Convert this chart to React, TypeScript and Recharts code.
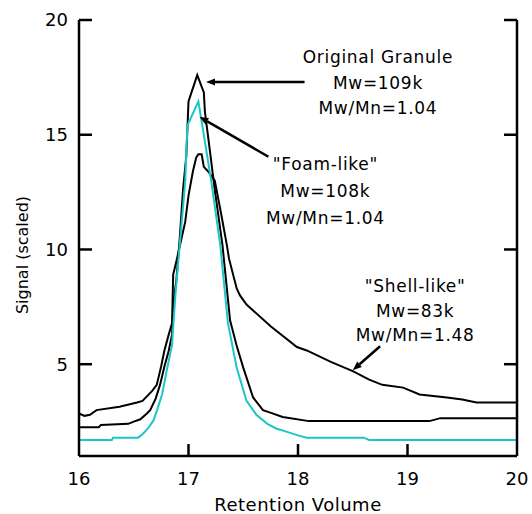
import { LineChart, Line, XAxis, YAxis, ReferenceLine, ReferenceDot } from "recharts";

// Retention volume (x) / scaled signal (y)
const originalX = [16.0, 16.18, 16.2, 16.45, 16.5, 16.56, 16.62, 16.65, 16.7, 16.74, 16.78, 16.82, 16.85, 16.86, 16.89, 16.92, 16.95, 16.98, 17.0, 17.08, 17.14, 17.15, 17.19, 17.24, 17.31, 17.38, 17.44, 17.5, 17.59, 17.68, 17.74, 17.86, 18.1, 19.2, 19.3, 20.0];
const originalY = [2.25, 2.25, 2.35, 2.4, 2.5, 2.6, 2.85, 3.0, 3.5, 4.1, 4.9, 5.6, 6.3, 7.6, 8.7, 10.5, 12.6, 14.07, 16.45, 17.6, 16.84, 16.0, 14.5, 12.6, 10.2, 6.9, 5.8, 4.85, 3.55, 3.0, 2.9, 2.7, 2.52, 2.52, 2.65, 2.65];

const foamX = [16.0, 16.3, 16.31, 16.54, 16.58, 16.63, 16.68, 16.72, 16.76, 16.8, 16.85, 16.86, 16.88, 16.92, 16.97, 16.99, 17.09, 17.15, 17.21, 17.29, 17.36, 17.44, 17.53, 17.62, 17.72, 17.8, 17.9, 18.0, 18.08, 18.6, 18.65, 20.0];
const foamY = [1.7, 1.7, 1.8, 1.8, 1.95, 2.2, 2.55, 3.1, 3.7, 4.7, 5.85, 6.6, 8.0, 10.2, 12.95, 15.4, 16.45, 14.7, 12.9, 10.2, 6.8, 4.85, 3.4, 2.8, 2.4, 2.2, 2.05, 1.9, 1.8, 1.8, 1.7, 1.7];

const shellX = [16.0, 16.05, 16.1, 16.16, 16.37, 16.53, 16.58, 16.62, 16.67, 16.71, 16.75, 16.78, 16.82, 16.85, 16.86, 16.89, 16.97, 17.0, 17.04, 17.07, 17.09, 17.12, 17.14, 17.18, 17.24, 17.3, 17.35, 17.37, 17.44, 17.47, 17.53, 17.6, 17.75, 17.99, 18.08, 18.3, 18.5, 18.65, 18.77, 18.96, 19.11, 19.36, 19.5, 19.63, 20.0];
const shellY = [2.85, 2.75, 2.8, 3.0, 3.15, 3.33, 3.4, 3.6, 3.85, 4.1, 4.9, 5.6, 6.3, 6.8, 8.9, 9.5, 11.2, 12.35, 13.4, 14.0, 14.15, 14.15, 13.6, 13.4, 13.0, 11.5, 10.2, 9.6, 8.3, 8.0, 7.6, 7.3, 6.65, 5.75, 5.6, 5.1, 4.7, 4.33, 4.1, 3.98, 3.68, 3.55, 3.46, 3.33, 3.33];

const xTicks = [16, 17, 18, 19, 20];
const yTicks = [5, 10, 15, 20];
const X_MIN = 16;
const X_MAX = 20;
const Y_MIN = 1;
const Y_MAX = 20;

// annotation text (centre x, line y's in data units) and arrows
const notes = [
  { x: 18.73, ys: [18.39, 17.26, 16.17], lines: ["Original Granule", "Mw=109k", "Mw/Mn=1.04"] },
  { x: 18.25, ys: [13.72, 12.55, 11.38], lines: ['"Foam-like"', "Mw=108k", "Mw/Mn=1.04"] },
  { x: 19.07, ys: [8.39, 7.3, 6.26], lines: ['"Shell-like"', "Mw=83k", "Mw/Mn=1.48"] },
];
const arrows = [
  [{ x: 18.06, y: 17.3 }, { x: 17.16, y: 17.3 }],
  [{ x: 17.73, y: 14.04 }, { x: 17.1, y: 15.78 }],
  [{ x: 18.75, y: 5.78 }, { x: 18.5, y: 4.74 }],
];

// inward tick lengths, in data units (~13px across, ~12px up)
const yTickLen = 0.119;
const xTickLen = 0.52;

const toPoints = (xs: number[], ys: number[]) => xs.map((x, i) => ({ x, y: ys[i] }));

const FONT = "'DejaVu Sans', Verdana, sans-serif";
const AXIS = { stroke: "#000", strokeWidth: 2.5 };

const arrowShape = (p: any) => {
  const { x1, y1, x2, y2 } = p;
  if (x1 == null || x2 == null) return <g />;
  const a = Math.atan2(y2 - y1, x2 - x1);
  const len = 9;
  const w = 3.5;
  const bx = x2 - len * Math.cos(a);
  const by = y2 - len * Math.sin(a);
  const pts = `${x2},${y2} ${bx + w * Math.sin(a)},${by - w * Math.cos(a)} ${bx - w * Math.sin(a)},${by + w * Math.cos(a)}`;
  return (
    <g>
      <line x1={x1} y1={y1} x2={bx} y2={by} stroke="#000" strokeWidth={2.5} />
      <polygon points={pts} fill="#000" />
    </g>
  );
};

const YTitle = (props: any) => {
  const vb = props.viewBox || { x: 78, y: 20, width: 1, height: 436 };
  const cx = vb.x + vb.width - 57;
  const cy = vb.y + vb.height / 2 + 17;
  return (
    <text
      x={cx}
      y={cy}
      transform={`rotate(-90 ${cx} ${cy})`}
      textAnchor="middle"
      dominantBaseline="central"
      fontSize={16}
      fontFamily={FONT}
      fill="#000"
    >
      Signal (scaled)
    </text>
  );
};

const tickSegments = [
  ...yTicks.map((t) => [{ x: X_MIN, y: t }, { x: X_MIN + yTickLen, y: t }]),
  ...yTicks.map((t) => [{ x: X_MAX, y: t }, { x: X_MAX - yTickLen, y: t }]),
  ...xTicks.filter((t) => t > X_MIN && t < X_MAX).map((t) => [{ x: t, y: Y_MIN }, { x: t, y: Y_MIN + xTickLen }]),
];

export default function App() {
  return (
    <div style={{ position: "absolute", left: 0, top: 0, background: "#fff" }}>
      <LineChart width={532} height={514} margin={{ top: 20, right: 14, bottom: 0, left: 78 }}>
        <XAxis
          dataKey="x"
          type="number"
          domain={[X_MIN, X_MAX]}
          ticks={xTicks}
          interval={0}
          height={58}
          tickSize={0}
          tickLine={false}
          tickMargin={16}
          axisLine={AXIS}
          tick={{ fill: "#000", fontSize: 18, fontFamily: FONT }}
          label={{ value: "Retention Volume", position: "insideBottom", offset: 3, fill: "#000", fontSize: 18, fontFamily: FONT, letterSpacing: 0.5 }}
        />
        <YAxis
          yAxisId="left"
          type="number"
          domain={[Y_MIN, Y_MAX]}
          ticks={yTicks}
          interval={0}
          width={1}
          tickSize={0}
          tickLine={false}
          tickMargin={11}
          allowDataOverflow
          axisLine={AXIS}
          tick={{ fill: "#000", fontSize: 18, fontFamily: FONT }}
          label={<YTitle />}
        />
        <YAxis
          yAxisId="right"
          orientation="right"
          type="number"
          domain={[Y_MIN, Y_MAX]}
          ticks={yTicks}
          width={1}
          tick={false}
          tickLine={false}
          axisLine={AXIS}
        />
        {tickSegments.map((seg, i) => (
          <ReferenceLine key={`t${i}`} yAxisId="left" segment={seg} stroke="#000" strokeWidth={2.5} ifOverflow="visible" />
        ))}
        <Line yAxisId="left" data={toPoints(shellX, shellY)} dataKey="y" type="linear" stroke="#000" strokeWidth={2} dot={false} isAnimationActive={false} />
        <Line yAxisId="left" data={toPoints(originalX, originalY)} dataKey="y" type="linear" stroke="#000" strokeWidth={2} dot={false} isAnimationActive={false} />
        <Line yAxisId="left" data={toPoints(foamX, foamY)} dataKey="y" type="linear" stroke="#1cc6c8" strokeWidth={2} dot={false} isAnimationActive={false} />
        {arrows.map((seg, i) => (
          <ReferenceLine key={`a${i}`} yAxisId="left" segment={seg} shape={arrowShape} />
        ))}
        {notes.flatMap((n, i) =>
          n.lines.map((t, j) => (
            <ReferenceDot
              key={`n${i}-${j}`}
              yAxisId="left"
              x={n.x}
              y={n.ys[j]}
              r={0}
              fill="none"
              stroke="none"
              label={{ value: t, position: "center", fill: "#000", fontSize: 17, fontFamily: FONT, letterSpacing: 0.7 }}
            />
          ))
        )}
      </LineChart>
    </div>
  );
}
